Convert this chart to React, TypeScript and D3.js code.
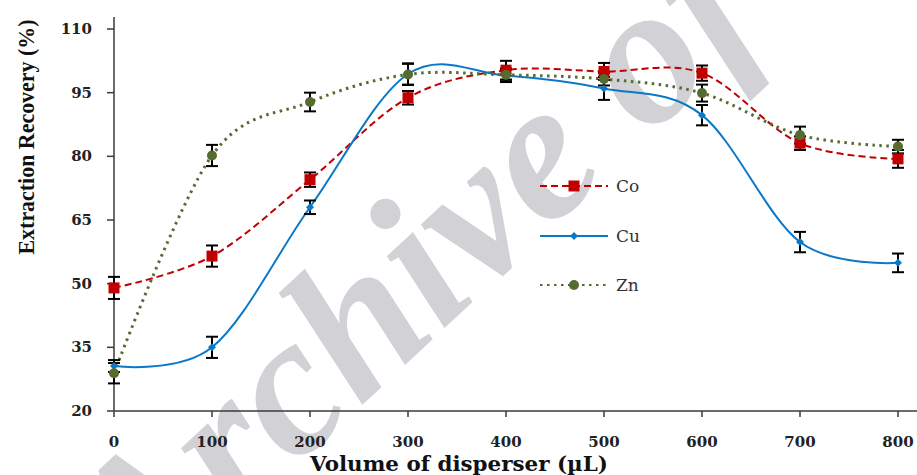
import React, { useEffect, useRef } from 'react'
import * as d3 from 'd3'

const volumes = [0, 100, 200, 300, 400, 500, 600, 700, 800]
const coValues = [49, 56.5, 74.5, 93.8, 100.3, 100, 99.6, 83.1, 79.4]
const coErrors = [2.6, 2.5, 1.7, 1.6, 2.2, 2, 1.8, 1.6, 2.1]
const cuValues = [30.6, 35, 68, 99.4, 99, 96, 89.7, 59.8, 54.9]
const cuErrors = [1.4, 2.5, 1.6, 2.5, 1.5, 2.7, 2.4, 2.4, 2.2]
const znValues = [28.9, 80.2, 92.8, 99.3, 99.2, 98.2, 94.9, 85, 82.3]
const znErrors = [2.4, 2.5, 2.2, 2.5, 1.5, 1.5, 2, 2, 1.6]
const yTicks = [20, 35, 50, 65, 80, 95, 110]
const xTicks = [0, 100, 200, 300, 400, 500, 600, 700, 800]

type Series = {
  name: string
  values: number[]
  errors: number[]
  color: string
  dash: string
  width: number
  marker: 'square' | 'diamond' | 'circle'
}

const series: Series[] = [
  { name: 'Co', values: coValues, errors: coErrors, color: '#c00000', dash: '7,4', width: 2, marker: 'square' },
  { name: 'Cu', values: cuValues, errors: cuErrors, color: '#0a78c8', dash: '', width: 2, marker: 'diamond' },
  { name: 'Zn', values: znValues, errors: znErrors, color: '#556b2f', dash: '2.5,4.5', width: 3, marker: 'circle' },
]

function App() {
  const svgRef = useRef<SVGSVGElement>(null)

  useEffect(() => {
    const w = 917
    const h = 475
    const svg = d3.select(svgRef.current)
      .attr('width', w)
      .attr('height', h)
    svg.selectAll('*').remove()

    const x = d3.scaleLinear().domain([0, 800]).range([114, 898])
    const y = d3.scaleLinear().domain([20, 110]).range([411, 29])

    // watermark behind everything
    svg.append('text')
      .attr('transform', 'translate(140,612) rotate(-43)')
      .attr('font-family', 'Liberation Serif')
      .attr('font-style', 'italic')
      .attr('font-weight', 'bold')
      .attr('font-size', 200)
      .attr('fill', '#d2d2d6')
      .text('Archive of SID')

    // axes
    const axisColor = '#3a3a3a'
    svg.append('line')
      .attr('x1', 114).attr('x2', 917)
      .attr('y1', 411).attr('y2', 411)
      .attr('stroke', axisColor).attr('stroke-width', 1.5)
    svg.append('line')
      .attr('x1', 114).attr('x2', 114)
      .attr('y1', 17).attr('y2', 411)
      .attr('stroke', axisColor).attr('stroke-width', 1.5)

    svg.selectAll('.ytick')
      .data(yTicks)
      .join('line')
      .attr('x1', 107).attr('x2', 114)
      .attr('y1', d => y(d)).attr('y2', d => y(d))
      .attr('stroke', axisColor).attr('stroke-width', 1.5)
    svg.selectAll('.ylab')
      .data(yTicks)
      .join('text')
      .attr('x', 92)
      .attr('y', d => y(d) + 5)
      .attr('text-anchor', 'end')
      .attr('font-family', 'DejaVu Serif')
      .attr('font-weight', 'bold')
      .attr('font-size', 15)
      .attr('fill', '#222')
      .text(d => d)

    svg.selectAll('.xtick')
      .data(xTicks)
      .join('line')
      .attr('x1', d => x(d)).attr('x2', d => x(d))
      .attr('y1', 411).attr('y2', 417)
      .attr('stroke', axisColor).attr('stroke-width', 1.5)
    svg.selectAll('.xlab')
      .data(xTicks)
      .join('text')
      .attr('x', d => x(d))
      .attr('y', 447)
      .attr('text-anchor', 'middle')
      .attr('font-family', 'DejaVu Serif')
      .attr('font-weight', 'bold')
      .attr('font-size', 15)
      .attr('fill', '#222')
      .text(d => d)

    svg.append('text')
      .attr('x', 310).attr('y', 471)
      .attr('textLength', 298)
      .attr('lengthAdjust', 'spacingAndGlyphs')
      .attr('font-family', 'DejaVu Serif')
      .attr('font-weight', 'bold')
      .attr('font-size', 21)
      .attr('fill', '#111')
      .text('Volume of disperser (µL)')

    svg.append('text')
      .attr('transform', 'translate(34,137) rotate(-90)')
      .attr('text-anchor', 'middle')
      .attr('textLength', 235)
      .attr('lengthAdjust', 'spacingAndGlyphs')
      .attr('font-family', 'Liberation Serif')
      .attr('font-weight', 'bold')
      .attr('font-size', 23)
      .attr('fill', '#111')
      .text('Extraction Recovery (%)')

    const line = d3.line<number>()
      .x((d, i) => x(volumes[i]))
      .y(d => y(d))
      .curve(d3.curveCardinal.tension(0))

    const drawMarker = (g: any, s: Series, cx: number, cy: number) => {
      if (s.marker === 'square') {
        g.append('rect')
          .attr('x', cx - 5.5).attr('y', cy - 5.5)
          .attr('width', 11).attr('height', 11)
          .attr('fill', s.color)
      } else if (s.marker === 'diamond') {
        g.append('path')
          .attr('d', `M${cx},${cy - 4}L${cx + 4},${cy}L${cx},${cy + 4}L${cx - 4},${cy}Z`)
          .attr('fill', s.color)
      } else {
        g.append('circle')
          .attr('cx', cx).attr('cy', cy).attr('r', 5)
          .attr('fill', s.color)
      }
    }

    // curves
    series.forEach(s => {
      svg.append('path')
        .datum(s.values)
        .attr('d', line)
        .attr('fill', 'none')
        .attr('stroke', s.color)
        .attr('stroke-width', s.width)
        .attr('stroke-dasharray', s.dash || null)
    })

    // error bars
    series.forEach(s => {
      const g = svg.append('g')
      s.values.forEach((v, i) => {
        const cx = x(volumes[i])
        const top = y(v + s.errors[i])
        const bot = y(v - s.errors[i])
        g.append('line').attr('x1', cx).attr('x2', cx).attr('y1', top).attr('y2', bot)
          .attr('stroke', '#000').attr('stroke-width', 2)
        g.append('line').attr('x1', cx - 6).attr('x2', cx + 6).attr('y1', top).attr('y2', top)
          .attr('stroke', '#000').attr('stroke-width', 2)
        g.append('line').attr('x1', cx - 6).attr('x2', cx + 6).attr('y1', bot).attr('y2', bot)
          .attr('stroke', '#000').attr('stroke-width', 2)
      })
    })

    // markers
    series.forEach(s => {
      const g = svg.append('g')
      s.values.forEach((v, i) => drawMarker(g, s, x(volumes[i]), y(v)))
    })

    // legend
    const legendY = [186, 236, 285]
    series.forEach((s, i) => {
      const g = svg.append('g')
      g.append('line')
        .attr('x1', 540).attr('x2', 608)
        .attr('y1', legendY[i]).attr('y2', legendY[i])
        .attr('stroke', s.color)
        .attr('stroke-width', s.marker === 'circle' ? 2 : s.width)
        .attr('stroke-dasharray', s.dash || null)
      drawMarker(g, s, 574, legendY[i])
      g.append('text')
        .attr('x', 616).attr('y', legendY[i] + 6)
        .attr('font-family', 'DejaVu Serif')
        .attr('font-size', 17)
        .attr('fill', '#333')
        .text(s.name)
    })
  }, [])

  return (
    <svg ref={svgRef} style={{ position: 'absolute', left: 0, top: 0, background: '#fff' }}></svg>
  )
}

export default App
